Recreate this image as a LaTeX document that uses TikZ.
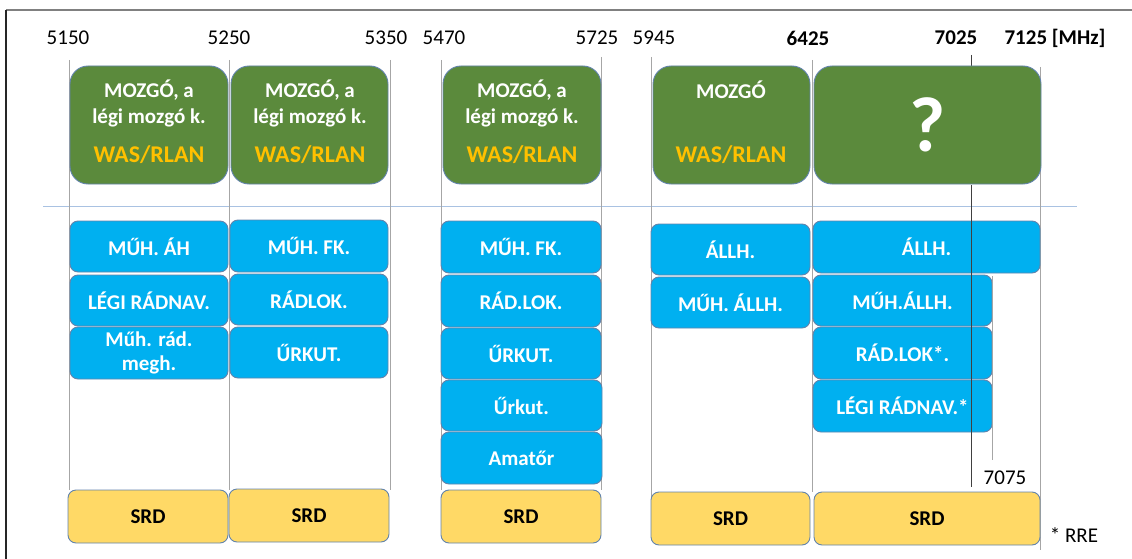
\documentclass[tikz,border=0pt]{standalone}
\usepackage{fontspec}
\setmainfont{Carlito}
\definecolor{mobgreen}{HTML}{5B8A3C}
\definecolor{svcblue}{HTML}{00B0F0}
\definecolor{srdyellow}{HTML}{FFD966}
\definecolor{edgeblue}{HTML}{6283AC}
\definecolor{wasgold}{HTML}{FFC000}
\definecolor{tickgray}{HTML}{A6A6A6}
\definecolor{splitblue}{HTML}{A9C2E2}
\begin{document}
\begin{tikzpicture}[x=1pt,y=-1pt,
  tick/.style={draw=tickgray, line width=0.8pt},
  band/.style={draw=edgeblue, line width=0.9pt, inner sep=0pt, outer sep=0pt,
    anchor=north west, align=center},
  mob/.style={band, fill=mobgreen, rounded corners=18pt},
  svc/.style={band, fill=svcblue, rounded corners=8pt, text=white,
    font=\bfseries\fontsize{21}{24}\selectfont},
  srd/.style={band, fill=srdyellow, rounded corners=8pt, text=black,
    font=\bfseries\fontsize{21}{24}\selectfont},
  mobtxt/.style={text=white, align=center, inner sep=0pt,
    font=\bfseries\fontsize{21}{26}\selectfont},
  wastxt/.style={text=wasgold, inner sep=0pt,
    font=\bfseries\fontsize{24}{28}\selectfont},
  freq/.style={inner sep=0pt, font=\fontsize{21}{24}\selectfont},
  freqb/.style={freq, font=\bfseries\fontsize{21}{24}\selectfont},
]
\useasboundingbox (0,0) rectangle (1132,559);

% frame
\draw[draw=black!50, line width=1.5pt] (6,10) -- (1132,10);
\draw[draw=black!85, line width=1.5pt] (6,10) -- (6,559);

% divider between mobile and other services
\draw[draw=splitblue, line width=0.8pt] (43,206) -- (1077,206);

% band edges
\foreach \x/\t/\b in {69/60/490, 229/60/490, 390/60/490, 441/60/490,
                      601/57/490, 651/57/520, 812/60/492, 1040/67/550}
  \draw[tick] (\x,\t) -- (\x,\b);

% frequency labels
\node[freq]  (l5150) at (68,38)   {5150};
\node[freq]  (l5250) at (229,38)  {5250};
\node[freq]  (l5350) at (386,38)  {5350};
\node[freq]  (l5470) at (444,38)  {5470};
\node[freq]  (l5725) at (597,38)  {5725};
\node[freq]  (l5945) at (654,38)  {5945};
\node[freqb] (l6425) at (808,38)  {6425};
\node[freqb] (l7025) at (956,38)  {7025};
\node[freqb] (l7125) at (1055,38) {7125 [MHz]};

% 7025 marker above the mobile row
\draw[draw=black!75, line width=0.8pt] (971,55) -- (971,66);

% mobile row
\node[mob, minimum width=158pt, minimum height=118pt] (m1) at (70,66) {};
\node[mob, minimum width=157pt, minimum height=118pt] (m2) at (231,66) {};
\node[mob, minimum width=158pt, minimum height=118pt] (m3) at (443,66) {};
\node[mob, minimum width=157pt, minimum height=118pt] (m4) at (653,66) {};
\node[mob, minimum width=227pt, minimum height=118pt, text=white,
      font=\bfseries\fontsize{78}{80}\selectfont] (m5) at (814,66) {?};

\node[mobtxt] (m1t) at (149,103) {MOZGÓ, a\\légi mozgó k.};
\node[wastxt] (m1w) at (149,155) {WAS/RLAN};
\node[mobtxt] (m2t) at (310,103) {MOZGÓ, a\\légi mozgó k.};
\node[wastxt] (m2w) at (310,155) {WAS/RLAN};
\node[mobtxt] (m3t) at (522,103) {MOZGÓ, a\\légi mozgó k.};
\node[wastxt] (m3w) at (522,155) {WAS/RLAN};
\node[mobtxt] (m4t) at (731,90)  {MOZGÓ};
\node[wastxt] (m4w) at (731,155) {WAS/RLAN};

% 5150-5250
\node[svc, minimum width=158pt, minimum height=51pt] (a1) at (70,221) {MŰH. ÁH};
\node[svc, minimum width=158pt, minimum height=51pt] (a2) at (70,275) {LÉGI RÁDNAV.};
\node[svc, minimum width=158pt, minimum height=52pt] (a3) at (70,327) {Műh. rád.\\megh.};
% 5250-5350
\node[svc, minimum width=158pt, minimum height=52pt] (b1) at (230,220) {MŰH. FK.};
\node[svc, minimum width=158pt, minimum height=51pt] (b2) at (230,274) {RÁDLOK.};
\node[svc, minimum width=158pt, minimum height=51pt] (b3) at (230,327) {ŰRKUT.};
% 5470-5725
\node[svc, minimum width=160pt, minimum height=52pt] (c1) at (441,221) {MŰH. FK.};
\node[svc, minimum width=160pt, minimum height=52pt] (c2) at (441,275) {RÁD.LOK.};
\node[svc, minimum width=160pt, minimum height=51pt] (c3) at (441,328) {ŰRKUT.};
\node[svc, minimum width=161pt, minimum height=51pt] (c4) at (441,380) {Űrkut.};
\node[svc, minimum width=161pt, minimum height=52pt] (c5) at (441,432) {Amatőr};
% 5945-6425
\node[svc, minimum width=159pt, minimum height=51pt] (d1) at (651,224) {ÁLLH.};
\node[svc, minimum width=159pt, minimum height=51pt] (d2) at (651,277) {MŰH. ÁLLH.};
% 6425-7125
\node[svc, minimum width=227pt, minimum height=52pt] (e1) at (813,221) {ÁLLH.};
\node[svc, minimum width=179pt, minimum height=51pt] (e2) at (813,275) {MŰH.ÁLLH.};
\node[svc, minimum width=179pt, minimum height=52pt] (e3) at (813,327) {RÁD.LOK*.};
\node[svc, minimum width=179pt, minimum height=52pt] (e4) at (813,380) {LÉGI RÁDNAV.*};

% short range devices
\node[srd, minimum width=160pt, minimum height=53pt] (s1) at (68,490)  {SRD};
\node[srd, minimum width=160pt, minimum height=53pt] (s2) at (229,489) {SRD};
\node[srd, minimum width=160pt, minimum height=53pt] (s3) at (441,490) {SRD};
\node[srd, minimum width=159pt, minimum height=53pt] (s4) at (651,492) {SRD};
\node[srd, minimum width=226pt, minimum height=53pt] (s5) at (814,492) {SRD};

% 7025 and 7075 markers over the service row
\draw[draw=black!75, line width=0.8pt] (971,185) -- (971,487);
\draw[tick] (992,276) -- (992,460);
\node[freq] (l7075) at (1005,478) {7075};

% footnote
\node[freq] (rre) at (1074,535) {* RRE};
\end{tikzpicture}
\end{document}
